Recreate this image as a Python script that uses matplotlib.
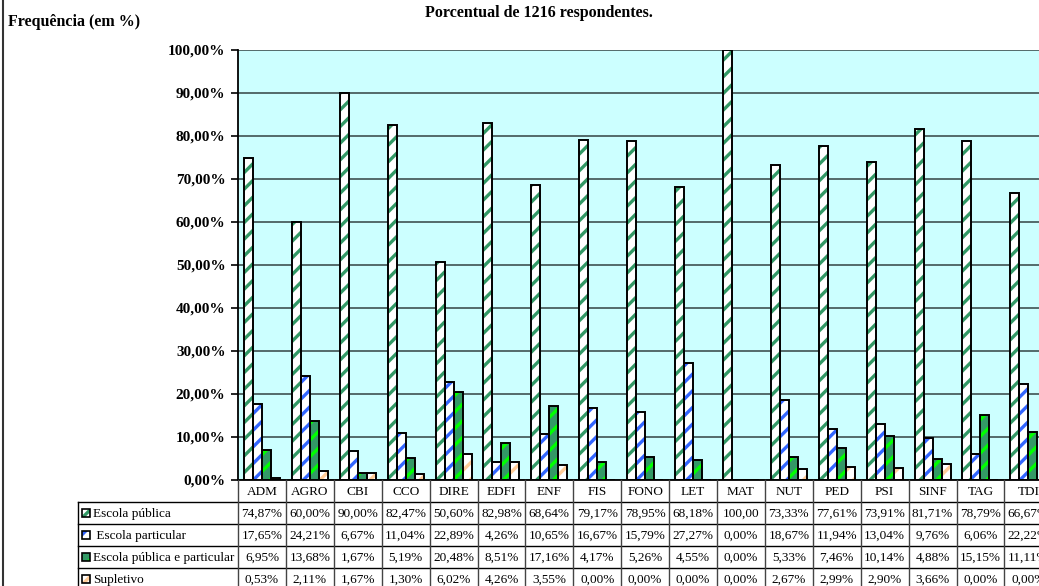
import numpy as np
import matplotlib
matplotlib.use("Agg")
import matplotlib.pyplot as plt
from matplotlib.patches import Rectangle
from matplotlib.lines import Line2D

plt.rcParams['font.family'] = ['Liberation Serif', 'DejaVu Serif']
plt.rcParams['hatch.linewidth'] = 2.4

# data
cursos = ["ADM", "AGRO", "CBI", "CCO", "DIRE", "EDFI", "ENF", "FIS", "FONO", "LET",
          "MAT", "NUT", "PED", "PSI", "SINF", "TAG", "TDI"]
series_names = ["Escola pública", " Escola particular", "Escola pública e particular", "Supletivo"]
escola_publica = [74.87, 60.00, 90.00, 82.47, 50.60, 82.98, 68.64, 79.17, 78.95, 68.18,
                  100.00, 73.33, 77.61, 73.91, 81.71, 78.79, 66.67]
escola_particular = [17.65, 24.21, 6.67, 11.04, 22.89, 4.26, 10.65, 16.67, 15.79, 27.27,
                     0.00, 18.67, 11.94, 13.04, 9.76, 6.06, 22.22]
publica_e_particular = [6.95, 13.68, 1.67, 5.19, 20.48, 8.51, 17.16, 4.17, 5.26, 4.55,
                        0.00, 5.33, 7.46, 10.14, 4.88, 15.15, 11.11]
supletivo = [0.53, 2.11, 1.67, 1.30, 6.02, 4.26, 3.55, 0.00, 0.00, 0.00,
             0.00, 2.67, 2.99, 2.90, 3.66, 0.00, 0.00]
series = [escola_publica, escola_particular, publica_e_particular, supletivo]

# (fill, hatch colour)
styles = [("white", "#339966"), ("white", "#3366FF"), ("#339966", "#00FF00"), ("white", "#FFCC99")]

W, H = 1039, 586
fig = plt.figure(figsize=(W / 100, H / 100), dpi=100)

col_w = 47.9
ax_l, ax_r, ax_t, ax_b = 238, 238 + 17 * col_w, 50, 480
ax = fig.add_axes([ax_l / W, 1 - ax_b / H, (ax_r - ax_l) / W, (ax_b - ax_t) / H])
ax.set_facecolor("#CCFFFF")
ax.set_xlim(0, len(cursos))
ax.set_ylim(0, 100)

x = np.arange(len(cursos))
bw = 9 / col_w
start = 0.5 - 2 * bw
for k, vals in enumerate(series):
    fill, hc = styles[k]
    xs = x + start + k * bw
    ax.bar(xs, vals, width=bw, align="edge", color=fill, edgecolor=hc, hatch="//",
           linewidth=0, zorder=3)
    ax.bar(xs, vals, width=bw, align="edge", fill=False, edgecolor="black",
           linewidth=1.4, zorder=4)

ax.set_yticks(np.arange(0, 101, 10))
ax.set_yticklabels([f"{v:.2f}".replace(".", ",") + "%" for v in np.arange(0, 101, 10)],
                   fontsize=11, fontweight="bold")
ax.yaxis.grid(True, color="#4a5f5f", linewidth=1.3, zorder=1)
ax.set_xticks([])
ax.tick_params(axis="y", length=5, width=1.2, pad=4)
for s in ["top", "right", "bottom"]:
    ax.spines[s].set_visible(False)
ax.spines["left"].set_linewidth(1.3)

# table below
row_h = 22
tab_top = 480
tab_bot = tab_top + 5 * row_h
tax = fig.add_axes([ax_l / W, 1 - tab_bot / H, (ax_r - ax_l) / W, 5 * row_h / H])
tax.set_xlim(0, len(cursos))
tax.set_ylim(5, 0)
tax.axis("off")

lab_x = (78 - ax_l) / col_w
lw = 1.0
tax.add_line(Line2D([0, len(cursos)], [0, 0], color="black", lw=1.3, clip_on=False))
for r in range(1, 5):
    tax.add_line(Line2D([lab_x, len(cursos)], [r, r], color="black", lw=lw, clip_on=False))
tax.add_line(Line2D([lab_x, lab_x], [1, 5], color="black", lw=lw, clip_on=False))
for c in range(len(cursos) + 1):
    tax.add_line(Line2D([c, c], [0, 5], color="#444444", lw=lw, clip_on=False))

for i, c in enumerate(cursos):
    tax.text(i + 0.5, 0.55, c, ha="center", va="center", fontsize=9.5, clip_on=False)

for k, vals in enumerate(series):
    fill, hc = styles[k]
    for i, v in enumerate(vals):
        s = f"{v:.2f}".replace(".", ",")
        if v < 100:
            s += "%"
        tax.text(i + 0.5, k + 1.55, s, ha="center", va="center", fontsize=9.5, clip_on=False)
    # legend key
    kx = (82 - ax_l) / col_w
    ksz = 8 / col_w
    ky = k + 1.5 - 4 / row_h
    tax.add_patch(Rectangle((kx, ky), ksz, 8 / row_h, facecolor=fill, edgecolor=hc,
                            hatch="//", linewidth=0, clip_on=False))
    tax.add_patch(Rectangle((kx, ky), ksz, 8 / row_h, fill=False, edgecolor="black",
                            linewidth=1.2, clip_on=False))
    tax.text((93 - ax_l) / col_w, k + 1.55, series_names[k], ha="left", va="center",
             fontsize=9.5, clip_on=False)

fig.text(539 / W, 1 - 13 / H, "Porcentual de 1216 respondentes.", ha="center", va="center",
         fontsize=11.5, fontweight="bold")
fig.text(8 / W, 1 - 22 / H, "Frequência (em %)", ha="left", va="center",
         fontsize=11.5, fontweight="bold")
fig.add_artist(Line2D([3 / W, 3 / W], [0, 1], color="#333333", lw=1.5))

fig.savefig("out.png", dpi=100)
